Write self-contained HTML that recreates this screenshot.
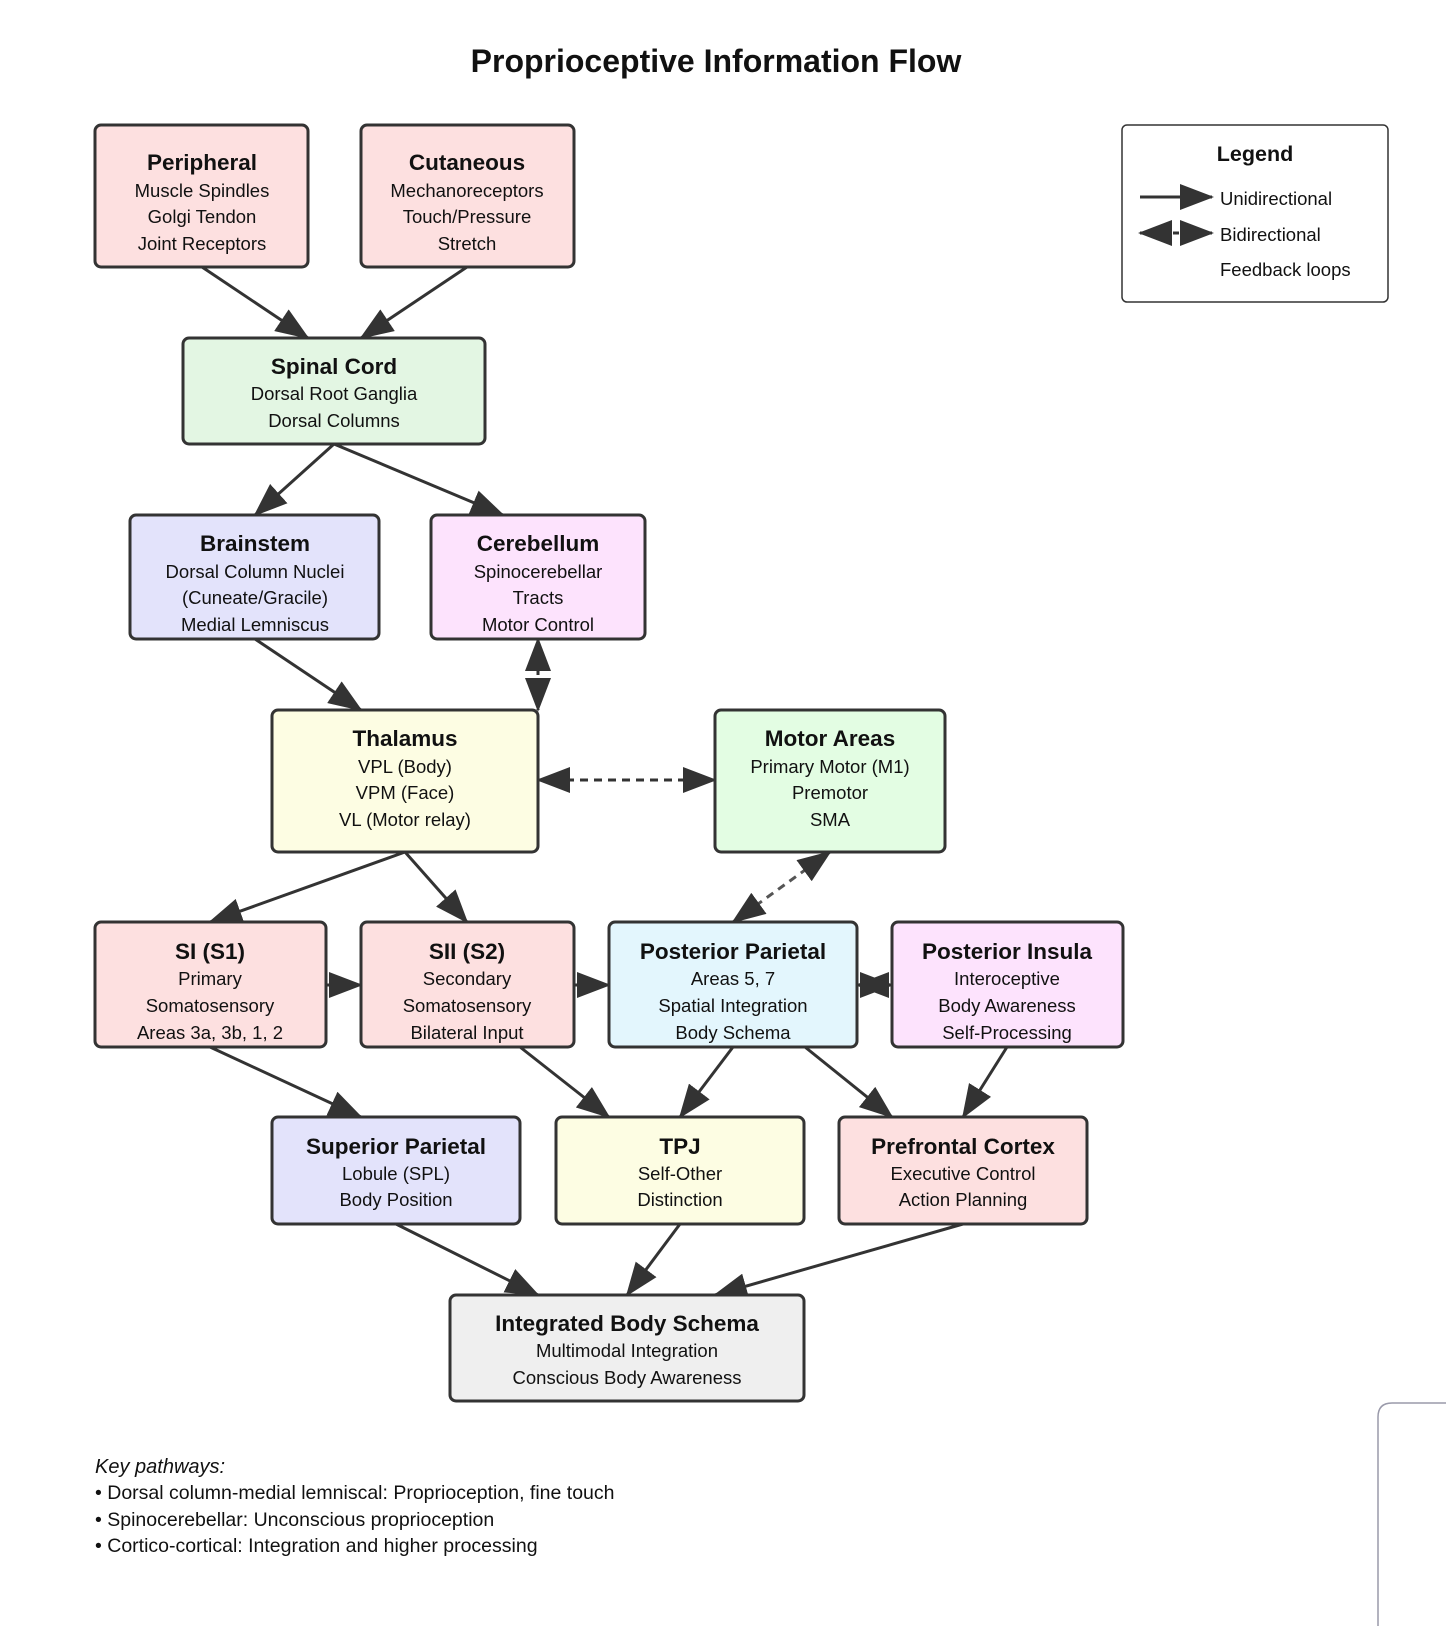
<!DOCTYPE html>
<html><head><meta charset="utf-8"><style>
html,body{margin:0;padding:0;background:#fff;overflow:hidden}
svg{display:block}
svg text{font-family:"Liberation Sans","DejaVu Sans",sans-serif;fill:#111}
</style></head><body>
<svg width="1446" height="1626" viewBox="0 0 1446 1626" xmlns="http://www.w3.org/2000/svg">
<defs>
<marker id="a" markerUnits="userSpaceOnUse" markerWidth="34" markerHeight="26" refX="32" refY="13" orient="auto"><path d="M0,0 L34,13 L0,26 Z" fill="#333"/></marker>
<marker id="s" markerUnits="userSpaceOnUse" markerWidth="34" markerHeight="26" refX="2" refY="13" orient="auto"><path d="M34,0 L0,13 L34,26 Z" fill="#333"/></marker>
</defs>
<text x="716" y="72" text-anchor="middle" font-size="32" font-weight="bold">Proprioceptive Information Flow</text>
<g stroke="#333" stroke-width="3" fill="none">
<line x1="202" y1="267" x2="308" y2="338" marker-end="url(#a)"/>
<line x1="467" y1="267" x2="361" y2="338" marker-end="url(#a)"/>
<line x1="334" y1="444" x2="255" y2="515" marker-end="url(#a)"/>
<line x1="334" y1="444" x2="503" y2="515" marker-end="url(#a)"/>
<line x1="255" y1="639" x2="361" y2="710" marker-end="url(#a)"/>
<line x1="538" y1="639" x2="538" y2="710" stroke-dasharray="8,6" marker-start="url(#s)" marker-end="url(#a)"/>
<line x1="538" y1="780" x2="715" y2="780" stroke-dasharray="8,6" marker-start="url(#s)" marker-end="url(#a)"/>
<line x1="830" y1="852" x2="733" y2="922" stroke-dasharray="8,6" stroke="#555" marker-start="url(#s)" marker-end="url(#a)"/>
<line x1="405" y1="852" x2="210" y2="922" marker-end="url(#a)"/>
<line x1="405" y1="852" x2="467" y2="922" marker-end="url(#a)"/>
<line x1="326" y1="985" x2="361" y2="985" marker-end="url(#a)"/>
<line x1="574" y1="985" x2="609" y2="985" marker-end="url(#a)"/>
<line x1="857" y1="985" x2="892" y2="985" marker-start="url(#s)" marker-end="url(#a)"/>
<line x1="210" y1="1047" x2="361" y2="1117" marker-end="url(#a)"/>
<line x1="520" y1="1047" x2="609" y2="1117" marker-end="url(#a)"/>
<line x1="733" y1="1047" x2="680" y2="1117" marker-end="url(#a)"/>
<line x1="805" y1="1047" x2="892" y2="1117" marker-end="url(#a)"/>
<line x1="1007" y1="1047" x2="963" y2="1117" marker-end="url(#a)"/>
<line x1="396" y1="1224" x2="538" y2="1295" marker-end="url(#a)"/>
<line x1="680" y1="1224" x2="627" y2="1295" marker-end="url(#a)"/>
<line x1="963" y1="1224" x2="715" y2="1295" marker-end="url(#a)"/>
</g>
<g stroke="#333" stroke-width="3">
<rect x="95" y="125" width="213" height="142" rx="6" fill="#fde0e0"/>
<rect x="361" y="125" width="213" height="142" rx="6" fill="#fde0e0"/>
<rect x="183" y="338" width="302" height="106" rx="6" fill="#e3f6e3"/>
<rect x="130" y="515" width="249" height="124" rx="6" fill="#e3e3fb"/>
<rect x="431" y="515" width="214" height="124" rx="6" fill="#fde3fd"/>
<rect x="272" y="710" width="266" height="142" rx="6" fill="#fdfde3"/>
<rect x="715" y="710" width="230" height="142" rx="6" fill="#e3fde3"/>
<rect x="95" y="922" width="231" height="125" rx="6" fill="#fde0e0"/>
<rect x="361" y="922" width="213" height="125" rx="6" fill="#fde0e0"/>
<rect x="609" y="922" width="248" height="125" rx="6" fill="#e3f6fd"/>
<rect x="892" y="922" width="231" height="125" rx="6" fill="#fde3fd"/>
<rect x="272" y="1117" width="248" height="107" rx="6" fill="#e3e3fb"/>
<rect x="556" y="1117" width="248" height="107" rx="6" fill="#fdfde3"/>
<rect x="839" y="1117" width="248" height="107" rx="6" fill="#fde0e0"/>
<rect x="450" y="1295" width="354" height="106" rx="6" fill="#efefef"/>
</g>
<rect x="1122" y="125" width="266" height="177" rx="5" fill="#fff" stroke="#333" stroke-width="1.5"/>
<g font-size="18.5" text-anchor="middle">
<text x="202" y="170" font-size="22.5" font-weight="bold">Peripheral</text><text x="202" y="197">Muscle Spindles</text><text x="202" y="223">Golgi Tendon</text><text x="202" y="250">Joint Receptors</text>
<text x="467" y="170" font-size="22.5" font-weight="bold">Cutaneous</text><text x="467" y="197">Mechanoreceptors</text><text x="467" y="223">Touch/Pressure</text><text x="467" y="250">Stretch</text>
<text x="334" y="374" font-size="22.5" font-weight="bold">Spinal Cord</text><text x="334" y="400">Dorsal Root Ganglia</text><text x="334" y="427">Dorsal Columns</text>
<text x="255" y="551" font-size="22.5" font-weight="bold">Brainstem</text><text x="255" y="578">Dorsal Column Nuclei</text><text x="255" y="604">(Cuneate/Gracile)</text><text x="255" y="631">Medial Lemniscus</text>
<text x="538" y="551" font-size="22.5" font-weight="bold">Cerebellum</text><text x="538" y="578">Spinocerebellar</text><text x="538" y="604">Tracts</text><text x="538" y="631">Motor Control</text>
<text x="405" y="746" font-size="22.5" font-weight="bold">Thalamus</text><text x="405" y="773">VPL (Body)</text><text x="405" y="799">VPM (Face)</text><text x="405" y="826">VL (Motor relay)</text>
<text x="830" y="746" font-size="22.5" font-weight="bold">Motor Areas</text><text x="830" y="773">Primary Motor (M1)</text><text x="830" y="799">Premotor</text><text x="830" y="826">SMA</text>
<text x="210" y="959" font-size="22.5" font-weight="bold">SI (S1)</text><text x="210" y="985">Primary</text><text x="210" y="1012">Somatosensory</text><text x="210" y="1039">Areas 3a, 3b, 1, 2</text>
<text x="467" y="959" font-size="22.5" font-weight="bold">SII (S2)</text><text x="467" y="985">Secondary</text><text x="467" y="1012">Somatosensory</text><text x="467" y="1039">Bilateral Input</text>
<text x="733" y="959" font-size="22.5" font-weight="bold">Posterior Parietal</text><text x="733" y="985">Areas 5, 7</text><text x="733" y="1012">Spatial Integration</text><text x="733" y="1039">Body Schema</text>
<text x="1007" y="959" font-size="22.5" font-weight="bold">Posterior Insula</text><text x="1007" y="985">Interoceptive</text><text x="1007" y="1012">Body Awareness</text><text x="1007" y="1039">Self-Processing</text>
<text x="396" y="1154" font-size="22.5" font-weight="bold">Superior Parietal</text><text x="396" y="1180">Lobule (SPL)</text><text x="396" y="1206">Body Position</text>
<text x="680" y="1154" font-size="22.5" font-weight="bold">TPJ</text><text x="680" y="1180">Self-Other</text><text x="680" y="1206">Distinction</text>
<text x="963" y="1154" font-size="22.5" font-weight="bold">Prefrontal Cortex</text><text x="963" y="1180">Executive Control</text><text x="963" y="1206">Action Planning</text>
<text x="627" y="1331" font-size="22.5" font-weight="bold">Integrated Body Schema</text><text x="627" y="1357">Multimodal Integration</text><text x="627" y="1384">Conscious Body Awareness</text>
<text x="1255" y="161" font-size="21.5" font-weight="bold">Legend</text>
</g>
<line x1="1140" y1="197" x2="1212" y2="197" stroke="#333" stroke-width="3" marker-end="url(#a)"/>
<line x1="1140" y1="233" x2="1212" y2="233" stroke="#333" stroke-width="3" stroke-dasharray="6,5" marker-start="url(#s)" marker-end="url(#a)"/>
<g font-size="18.5"><text x="1220" y="205">Unidirectional</text><text x="1220" y="241">Bidirectional</text><text x="1220" y="276">Feedback loops</text></g>
<text x="95" y="1473" font-size="20" font-style="italic">Key pathways:</text>
<g font-size="19.5"><text x="95" y="1499">• Dorsal column-medial lemniscal: Proprioception, fine touch</text><text x="95" y="1526">• Spinocerebellar: Unconscious proprioception</text><text x="95" y="1552">• Cortico-cortical: Integration and higher processing</text></g>
<path d="M1446,1403 L1392,1403 Q1378,1403 1378,1417 L1378,1626" fill="none" stroke="#9a9aaa" stroke-width="1.5"/>
</svg>
</body></html>
